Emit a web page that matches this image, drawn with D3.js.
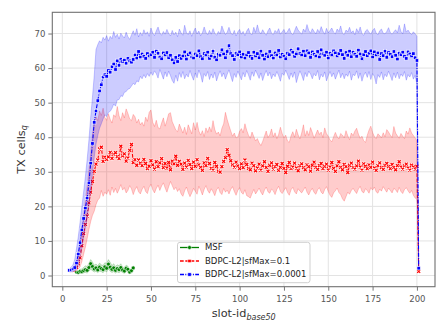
<!DOCTYPE html>
<html>
<head>
<meta charset="utf-8">
<script src="https://cdn.jsdelivr.net/npm/d3@7"></script>
<style>
  html, body { margin: 0; padding: 0; background: #fff; }
  svg { display: block; font-family: "DejaVu Sans", sans-serif; }
</style>
</head>
<body>
<script>
var
  xTicks = [0, 25, 50, 75, 100, 125, 150, 175, 200],
  yTicks = [0, 10, 20, 30, 40, 50, 60, 70],

  seriesNames = ['MSF', 'BDPC-L2|sfMax=0.1', 'BDPC-L2|sfMax=0.0001'],

  // MSF, slot 8..40
  msfStart = 8,
  msfMean = [1.0,0.9,1.2,1.1,1.4,1.7,1.5,2.3,3.4,2.6,
    1.9,2.2,1.6,2.4,2.0,1.7,2.5,2.1,3.3,2.4,
    1.8,2.2,1.5,2.0,1.7,2.3,1.6,1.3,2.1,1.8,
    1.0,1.4,2.2],
  msfHi = [1.5,1.4,1.8,1.9,2.3,2.8,2.6,3.5,4.6,3.9,
    3.0,3.3,2.8,3.6,3.1,2.9,3.7,3.5,4.6,3.8,
    2.9,3.4,2.6,3.1,2.8,3.4,2.5,2.2,3.0,2.7,
    1.6,2.1,2.8],
  msfLo = [0.6,0.5,0.7,0.6,0.8,0.9,0.7,1.2,1.8,1.4,
    1.0,1.2,0.8,1.3,1.1,0.8,1.4,1.0,1.9,1.2,
    0.9,1.1,0.7,1.0,0.8,1.2,0.9,0.6,1.2,0.9,
    0.5,0.8,1.6],

  // sfMax=0.1, slot 5..201
  redStart = 5,
  redMean = [1.5,1.6,1.9,2.4,3.4,5.1,8.6,12.1,14.8,17.2,
    21.0,24.1,27.2,30.1,32.2,33.4,36.6,37.1,33.0,34.2,
    33.6,34.3,35.6,33.9,35.1,35.5,34.4,33.8,37.4,34.6,
    35.2,33.1,34.0,36.2,37.9,32.7,33.5,31.9,33.4,32.5,
    31.8,33.6,32.4,30.9,31.6,33.2,32.0,30.8,32.9,31.5,
    32.6,33.8,31.2,32.4,31.1,32.7,30.6,33.1,32.3,34.5,
    31.9,33.0,32.2,30.7,32.5,31.4,33.3,32.1,30.9,32.8,
    31.6,33.5,32.0,31.3,30.4,32.6,31.8,33.9,32.4,31.0,
    30.5,32.7,31.6,30.2,29.9,31.5,33.0,34.1,36.4,34.8,
    33.2,32.0,31.4,32.8,31.7,30.9,32.3,31.2,33.4,32.1,
    31.0,30.6,32.5,31.8,30.3,31.1,32.2,30.5,31.7,32.9,
    31.3,30.1,31.9,32.6,30.8,31.5,32.1,30.4,31.3,32.4,
    31.0,29.8,31.6,32.7,30.9,31.4,32.5,31.1,30.3,31.8,
    32.3,31.2,30.6,32.0,31.5,30.2,31.9,32.8,31.3,30.7,
    31.8,32.4,30.9,31.6,32.2,30.5,31.4,32.7,31.0,30.1,
    31.7,32.9,31.3,30.6,32.1,31.5,29.8,31.9,32.5,31.2,
    30.8,31.7,33.1,31.4,30.5,32.3,31.6,30.9,32.0,31.3,
    32.8,31.1,30.4,31.8,32.6,31.2,30.7,31.9,32.4,31.5,
    30.9,32.1,31.3,30.6,31.8,32.9,31.4,30.8,31.7,32.2,
    31.1,30.5,31.9,31.4,30.8,31.6,1.2],
  redHi = [2.0,2.3,2.9,3.8,5.6,8.4,12.5,17.2,21.6,25.8,
    30.4,35.2,40.8,44.6,45.9,44.8,47.6,46.3,48.4,45.7,
    44.9,46.8,45.2,44.1,46.5,45.8,48.9,46.2,44.8,47.1,
    45.6,48.2,46.9,45.3,44.8,46.6,45.9,44.1,45.2,43.6,
    44.3,43.2,45.8,44.6,47.2,47.9,44.3,43.1,44.9,42.8,
    42.4,44.1,45.6,43.2,44.9,46.8,47.1,44.5,43.3,42.1,
    41.6,43.8,42.5,41.2,42.9,40.8,43.6,42.3,41.0,44.2,
    42.1,44.3,41.8,40.6,41.9,40.2,42.7,41.4,43.0,41.6,
    44.8,42.2,40.9,41.5,40.4,42.6,43.9,47.2,45.1,43.4,
    41.8,40.3,41.2,39.8,40.1,41.7,42.5,41.3,43.9,42.0,
    40.6,39.7,41.5,40.2,38.9,39.6,38.4,37.6,38.8,40.3,
    41.8,39.9,40.7,42.4,40.1,41.3,39.6,40.8,42.9,41.1,
    39.8,40.6,38.9,38.5,40.4,41.6,40.0,42.3,40.7,39.5,
    41.2,43.6,40.3,41.9,40.5,42.8,41.4,39.7,40.9,42.1,
    40.8,41.5,39.9,42.7,41.0,40.3,39.2,38.7,40.1,41.4,
    40.2,39.5,41.1,40.6,39.8,41.9,40.4,39.3,41.2,40.5,
    41.8,42.6,40.9,39.7,40.3,39.0,38.5,40.6,42.1,43.2,
    41.4,40.2,39.6,41.0,40.5,39.8,41.3,40.1,42.2,41.5,
    40.6,39.9,43.1,41.2,40.4,39.7,41.1,40.3,39.6,41.8,
    40.9,42.7,41.2,40.5,39.8,38.9,1.6],
  redLo = [1.0,1.1,1.3,1.5,1.9,2.5,4.0,6.1,8.2,10.6,
    13.3,15.6,17.4,18.6,20.5,21.8,22.4,24.6,22.9,24.1,
    23.5,24.8,23.2,25.6,24.0,25.2,23.8,24.9,26.3,24.7,
    25.4,23.9,24.6,26.0,25.1,23.4,24.8,25.7,24.2,23.6,
    24.9,25.8,24.3,23.7,25.5,26.4,24.8,23.9,25.2,26.1,
    24.6,25.9,26.8,25.3,24.1,25.7,27.2,26.0,24.8,25.5,
    24.3,25.1,23.6,22.9,24.5,25.6,24.0,22.8,23.9,25.2,
    24.4,23.5,25.8,24.7,23.3,24.9,26.0,24.6,23.8,25.1,
    24.2,23.1,24.8,25.5,24.0,23.4,25.2,24.1,24.7,23.6,
    24.9,25.7,24.3,23.2,24.6,25.4,24.0,23.5,24.8,23.1,
    22.8,22.4,23.7,24.9,23.6,24.4,25.3,24.1,23.3,24.7,
    25.6,24.2,23.8,25.0,24.5,23.4,24.9,25.8,24.3,23.7,
    24.6,25.4,24.0,23.2,24.8,25.5,24.2,23.6,25.1,24.4,
    23.9,24.7,25.6,24.1,23.3,24.5,25.2,24.0,23.5,24.8,
    25.4,24.1,23.6,24.9,25.7,24.3,23.2,22.6,23.9,24.5,
    25.3,24.0,23.4,22.2,21.5,22.8,24.1,23.5,24.6,25.2,
    24.4,23.7,25.0,25.8,24.3,23.9,25.1,24.6,23.8,25.4,
    24.7,25.6,24.2,23.8,25.0,24.4,25.7,24.9,24.1,25.3,
    24.6,23.9,25.2,24.8,24.0,25.5,24.3,23.7,24.9,25.4,
    24.5,23.8,24.6,23.2,22.4,22.0,0.9],

  // sfMax=0.0001, slot 4..201
  blueStart = 4,
  blueMean = [1.5,1.6,1.9,2.3,3.6,6.2,9.5,13.2,16.5,19.5,
    22.4,26.8,32.5,38.2,44.3,47.6,50.6,53.4,55.2,57.4,
    58.1,57.6,59.3,58.8,60.4,61.2,59.6,62.1,60.8,62.6,
    61.9,62.3,61.4,62.8,62.1,61.7,62.5,63.8,62.9,64.8,
    63.2,64.1,63.4,62.8,64.2,63.5,63.9,64.6,63.1,64.9,
    64.3,63.2,62.7,64.4,63.8,64.5,63.0,63.7,62.4,61.5,
    63.1,61.9,63.6,62.8,63.5,64.7,62.6,63.9,64.4,63.2,
    62.9,64.1,63.6,65.0,63.3,62.7,64.2,63.8,64.6,62.8,
    63.5,64.9,63.1,62.4,64.0,63.7,65.3,64.1,63.0,64.8,
    66.5,64.2,63.6,62.5,64.3,63.9,64.7,63.2,64.0,62.9,
    63.8,64.5,63.4,62.8,64.6,63.5,64.2,63.0,64.9,63.7,
    62.6,64.1,63.3,64.8,63.6,62.9,64.4,63.8,65.1,63.2,
    64.0,63.5,62.7,64.3,63.9,65.2,64.6,63.4,64.1,65.6,
    64.2,63.8,64.9,63.6,65.0,64.4,63.1,64.7,64.0,63.5,
    64.8,63.2,65.3,64.1,63.7,64.6,62.9,64.3,63.8,65.0,
    64.4,63.5,64.2,65.1,63.9,62.8,64.5,63.7,64.9,63.3,
    64.6,64.0,63.4,65.2,64.1,62.7,63.9,64.8,63.6,64.3,
    65.0,63.2,64.7,63.8,64.4,62.5,64.2,63.6,64.9,63.1,
    64.5,64.0,63.3,64.8,63.7,62.6,64.3,63.9,64.6,63.4,
    62.8,64.7,64.1,63.5,64.2,63.0,62.2,2.1],
  blueHi = [2.0,2.4,3.1,4.6,7.8,11.2,15.4,19.8,24.1,28.6,
    33.5,39.2,45.8,51.6,57.9,65.4,66.8,67.9,67.3,68.9,
    68.1,69.4,67.8,69.2,68.5,70.6,68.9,69.8,68.4,70.1,
    69.3,68.7,70.4,69.1,68.3,69.6,70.8,69.5,71.4,69.0,
    70.3,69.4,71.1,69.8,70.5,69.2,71.6,70.1,69.4,70.8,
    71.9,70.2,69.5,70.6,69.8,71.2,70.0,69.3,70.9,69.6,
    70.4,69.1,71.3,70.2,69.5,72.4,70.3,69.7,70.8,69.2,
    70.5,71.6,69.9,70.7,69.4,70.2,71.9,70.4,69.6,70.9,
    69.8,71.4,70.1,69.5,70.6,69.9,72.2,70.8,69.7,70.4,
    71.8,70.2,69.6,70.9,69.3,70.5,71.2,69.8,70.6,69.4,
    70.7,71.5,70.0,69.6,71.8,70.3,72.5,70.6,69.9,71.1,
    70.2,69.5,70.8,71.6,70.1,69.7,70.9,70.3,71.4,69.8,
    70.5,71.2,69.9,70.6,71.5,70.2,69.6,70.8,72.1,71.0,
    70.4,69.8,71.3,70.5,72.6,70.9,70.1,71.4,70.6,69.9,
    71.2,70.3,72.0,70.7,69.8,71.5,70.2,70.9,71.6,70.4,
    69.9,71.3,70.6,72.2,70.1,69.7,71.0,70.5,71.8,70.2,
    70.8,69.6,71.4,70.3,71.9,70.0,69.5,70.7,71.2,70.4,
    69.8,70.9,71.5,70.2,69.6,70.8,71.3,70.1,69.9,70.6,
    71.7,70.3,69.8,70.5,71.1,70.2,72.4,70.6,69.9,72.8,
    70.4,71.0,70.2,69.7,70.5,69.9,69.2,2.6],
  blueLo = [1.0,1.1,1.2,1.4,1.8,3.0,5.2,8.0,11.0,13.8,
    16.5,20.4,24.6,29.5,34.2,38.0,40.5,42.6,43.9,45.3,
    46.5,46.0,47.2,47.5,48.3,49.6,49.0,50.8,50.9,52.0,
    51.8,53.0,53.2,53.9,54.1,54.8,55.6,55.2,56.3,56.0,
    57.6,56.9,58.1,57.2,58.4,57.6,58.8,
    57.9,59.2,58.4,57.1,59.6,58.3,56.8,58.9,57.5,59.1,
    57.8,56.4,55.6,57.9,56.2,58.7,57.3,59.0,56.9,58.2,
    57.4,59.3,57.8,56.5,58.6,57.2,59.4,58.1,55.9,58.4,
    57.6,59.0,56.7,58.3,57.1,58.8,56.3,57.9,59.2,57.5,
    58.6,56.8,58.2,59.5,57.7,56.1,58.4,57.3,59.1,57.9,
    56.6,58.7,57.4,59.3,58.0,56.5,58.9,57.6,59.4,58.2,
    57.0,58.6,56.4,58.1,59.3,57.7,58.8,56.9,58.3,57.5,
    59.0,57.8,56.2,58.5,57.9,59.4,58.1,56.7,58.6,57.3,
    58.9,55.8,57.6,59.2,58.0,56.4,58.7,57.5,59.1,58.3,
    56.9,58.4,57.7,59.3,56.6,58.2,57.4,58.9,56.3,57.8,
    59.0,57.5,58.6,56.8,58.1,59.4,57.2,58.5,56.9,58.3,
    57.6,59.1,56.5,58.2,57.8,59.2,57.0,58.6,56.2,57.9,
    58.8,57.3,59.0,56.7,58.4,57.6,55.4,58.1,57.3,58.9,
    56.6,58.2,57.5,59.1,57.8,56.4,58.6,57.2,58.8,56.9,
    58.3,57.6,59.0,56.5,58.1,57.4,58.7,56.8,57.9,55.3,
    1.8],

  config = {
    w : 448,
    h : 336,
    left : 52.3,
    right : 435,
    top : 12.3,
    bottom : 286.7
  },

  svg,
  x,
  y,

  toRows = function toRows(start, mean, lo, hi) {
    return mean.map(function (m, i) {
      return { x: start + i, y: m, lo: lo[i], hi: hi[i] };
    });
  },

  drawGrid = function drawGrid() {
    var grid = svg.append('g').attr('stroke', '#e3e3e3').attr('stroke-width', 1);

    grid.selectAll('line.gx').data(xTicks).enter().append('line')
      .attr('class', 'gx')
      .attr('x1', function (d) { return x(d); })
      .attr('x2', function (d) { return x(d); })
      .attr('y1', config.top)
      .attr('y2', config.bottom);

    grid.selectAll('line.gy').data(yTicks).enter().append('line')
      .attr('class', 'gy')
      .attr('x1', config.left)
      .attr('x2', config.right)
      .attr('y1', function (d) { return y(d); })
      .attr('y2', function (d) { return y(d); });
  },

  drawAxes = function drawAxes() {
    var gx = svg.append('g')
      .attr('transform', 'translate(0,' + config.bottom + ')')
      .call(d3.axisBottom(x).tickValues(xTicks).tickSize(4).tickPadding(5).tickSizeOuter(0));

    var gy = svg.append('g')
      .attr('transform', 'translate(' + config.left + ',0)')
      .call(d3.axisLeft(y).tickValues(yTicks).tickSize(4).tickPadding(3).tickSizeOuter(0));

    [gx, gy].forEach(function (g) {
      g.select('.domain').remove();
      g.selectAll('line').attr('stroke', '#777');
      g.selectAll('text')
        .attr('fill', '#555')
        .style('font-size', '8.5px')
        .style('font-family', '"DejaVu Sans", sans-serif');
    });

    svg.append('rect')
      .attr('x', config.left)
      .attr('y', config.top)
      .attr('width', config.right - config.left)
      .attr('height', config.bottom - config.top)
      .attr('fill', 'none')
      .attr('stroke', '#707070')
      .attr('stroke-width', 1.1);

    var xl = svg.append('text')
      .attr('x', (config.left + config.right) / 2)
      .attr('y', 317)
      .attr('text-anchor', 'middle')
      .attr('fill', '#333')
      .style('font-size', '11.3px')
      .text('slot-id');
    xl.append('tspan')
      .attr('dy', 2.6)
      .style('font-size', '8px')
      .style('font-style', 'italic')
      .text('base50');

    var yl = svg.append('text')
      .attr('transform', 'translate(24.5,' + ((config.top + config.bottom) / 2) + ') rotate(-90)')
      .attr('text-anchor', 'middle')
      .attr('fill', '#333')
      .style('font-size', '11.3px')
      .text('TX cells');
    yl.append('tspan')
      .attr('dy', 2.6)
      .style('font-size', '8px')
      .style('font-style', 'italic')
      .text('q');
  },

  drawSeries = function drawSeries(plot, rows, color, dash, marker) {
    var
      area = d3.area()
        .x(function (d) { return x(d.x); })
        .y0(function (d) { return y(d.lo); })
        .y1(function (d) { return y(d.hi); }),
      line = d3.line()
        .x(function (d) { return x(d.x); })
        .y(function (d) { return y(d.y); });

    plot.append('path')
      .datum(rows)
      .attr('d', area)
      .attr('fill', color)
      .attr('fill-opacity', 0.2)
      .attr('stroke', color)
      .attr('stroke-opacity', 0.2)
      .attr('stroke-width', 1);

    plot.append('path')
      .datum(rows)
      .attr('d', line)
      .attr('fill', 'none')
      .attr('stroke', color)
      .attr('stroke-width', 1.1)
      .attr('stroke-dasharray', dash);

    addMarkers(plot.append('g'), rows.map(function (d) {
      return [x(d.x), y(d.y)];
    }), color, marker);
  },

  addMarkers = function addMarkers(g, pts, color, marker) {
    var sel = g.selectAll('g').data(pts).enter().append('g')
      .attr('transform', function (p) { return 'translate(' + p[0] + ',' + p[1] + ')'; });

    if (marker === 'circle') {
      sel.append('circle').attr('r', 1.9).attr('fill', color)
        .attr('stroke', '#fff').attr('stroke-width', 0.5);
    } else if (marker === 'cross') {
      sel.append('rect').attr('x', -2.1).attr('y', -2.1).attr('width', 4.2).attr('height', 4.2)
        .attr('fill', '#fff').attr('fill-opacity', 0.85);
      sel.append('path').attr('d', 'M-1.5,-1.5L1.5,1.5M-1.5,1.5L1.5,-1.5')
        .attr('stroke', color).attr('stroke-width', 1.2);
    } else {
      sel.append('rect').attr('x', -1.7).attr('y', -1.7).attr('width', 3.4).attr('height', 3.4)
        .attr('fill', color).attr('stroke', '#fff').attr('stroke-width', 0.6);
    }
  },

  drawLegend = function drawLegend(items) {
    var
      lg = svg.append('g'),
      rowY = [247.5, 261, 274.5];

    lg.append('rect')
      .attr('x', 177.5).attr('y', 242.3)
      .attr('width', 132.5).attr('height', 40.4)
      .attr('rx', 2.5)
      .attr('fill', '#fff').attr('fill-opacity', 0.8)
      .attr('stroke', '#cfcfcf').attr('stroke-width', 1);

    items.forEach(function (it, i) {
      lg.append('line')
        .attr('x1', 180).attr('x2', 199)
        .attr('y1', rowY[i]).attr('y2', rowY[i])
        .attr('stroke', it.color).attr('stroke-width', 1.3)
        .attr('stroke-dasharray', it.legendDash);
      addMarkers(lg.append('g'), [[189.5, rowY[i]]], it.color, it.legendMarker);
      lg.append('text')
        .attr('x', 205).attr('y', rowY[i]).attr('dy', '0.35em')
        .attr('fill', '#222')
        .style('font-size', '8.5px')
        .text(it.name);
    });
  },

  init = function init() {
    svg = d3.select('body').append('svg').attr('width', config.w).attr('height', config.h);
    x = d3.scaleLinear().domain([-5.65, 210.2]).range([config.left, config.right]);
    y = d3.scaleLinear().domain([-3.24, 76.14]).range([config.bottom, config.top]);

    svg.append('rect').attr('width', config.w).attr('height', config.h).attr('fill', '#fff');

    drawGrid();

    svg.append('clipPath').attr('id', 'clip').append('rect')
      .attr('x', config.left).attr('y', config.top)
      .attr('width', config.right - config.left)
      .attr('height', config.bottom - config.top);

    var plot = svg.append('g').attr('clip-path', 'url(#clip)');

    drawSeries(plot, toRows(msfStart, msfMean, msfLo, msfHi), '#008000', null, 'circle');
    drawSeries(plot, toRows(redStart, redMean, redLo, redHi), '#ff0000', '3.7,1.6', 'cross');
    drawSeries(plot, toRows(blueStart, blueMean, blueLo, blueHi), '#0000ff', '4,1.3,1,1.3', 'square');

    drawAxes();

    drawLegend([
      { name: seriesNames[0], color: '#008000', legendDash: null, legendMarker: 'circle' },
      { name: seriesNames[1], color: '#ff0000', legendDash: '3.7,1.6', legendMarker: 'square' },
      { name: seriesNames[2], color: '#0000ff', legendDash: '4,1.3,1,1.3', legendMarker: 'square' }
    ]);
  };

init();
</script>
</body>
</html>
